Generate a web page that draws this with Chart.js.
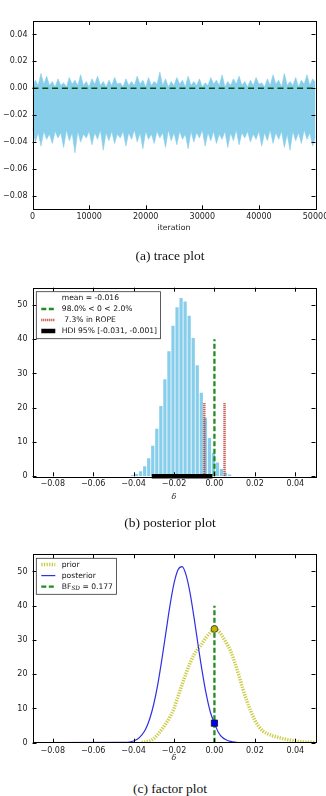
<!DOCTYPE html>
<html>
<head>
<meta charset="utf-8">
<script src="https://cdn.jsdelivr.net/npm/chart.js@4.4.1/dist/chart.umd.min.js"></script>
<style>
  html, body { margin: 0; padding: 0; background: #fff; }
  body { width: 326px; height: 796px; position: relative; overflow: hidden; }
  canvas { position: absolute; left: 0; }
  .cap { position: absolute; left: 0; width: 340px; text-align: center; z-index: 2;
         font-family: "Liberation Serif", "DejaVu Serif", serif; font-size: 13.5px; line-height: 16px; color: #111; }
</style>
</head>
<body>
<canvas id="trace" width="326" height="236" style="top:0px"></canvas>
<div class="cap" style="top:248px">(a) trace plot</div>
<canvas id="posterior" width="326" height="262" style="top:240px"></canvas>
<div class="cap" style="top:515px">(b) posterior plot</div>
<canvas id="factor" width="326" height="272" style="top:502px"></canvas>
<div class="cap" style="top:781px">(c) factor plot</div>
<script>
let traceIter = [0,500,1000,1500,2000,2500,3000,3500,4000,4500,5000,5500,6000,6500,7000,7500,8000,8500,9000,9500,
  10000,10500,11000,11500,12000,12500,13000,13500,14000,14500,15000,15500,16000,16500,17000,17500,18000,18500,19000,19500,
  20000,20500,21000,21500,22000,22500,23000,23500,24000,24500,25000,25500,26000,26500,27000,27500,28000,28500,29000,29500,
  30000,30500,31000,31500,32000,32500,33000,33500,34000,34500,35000,35500,36000,36500,37000,37500,38000,38500,39000,39500,
  40000,40500,41000,41500,42000,42500,43000,43500,44000,44500,45000,45500,46000,46500,47000,47500,48000,48500,49000,49500,50000];
let traceUpper = [0.000,0.006,0.002,0.011,0.003,0.009,0.002,0.005,0.001,0.007,0.002,0.004,0.001,0.008,0.003,0.006,0.002,0.010,0.002,0.005,
  0.001,0.007,0.003,0.009,0.002,0.005,0.001,0.006,0.002,0.008,0.003,0.004,0.001,0.007,0.002,0.005,0.002,0.009,0.003,0.006,
  0.001,0.008,0.002,0.005,0.003,0.012,0.002,0.007,0.001,0.005,0.002,0.008,0.003,0.006,0.001,0.009,0.002,0.005,0.002,0.007,
  0.001,0.004,0.002,0.008,0.003,0.006,0.002,0.010,0.001,0.005,0.002,0.007,0.003,0.009,0.002,0.005,0.001,0.006,0.002,0.008,
  0.003,0.004,0.001,0.007,0.002,0.010,0.003,0.006,0.001,0.011,0.002,0.005,0.002,0.008,0.001,0.006,0.003,0.010,0.002,0.007,0.004];
let traceLower = [-0.030,-0.040,-0.033,-0.043,-0.032,-0.038,-0.034,-0.041,-0.032,-0.037,-0.033,-0.044,-0.031,-0.039,-0.033,-0.048,-0.032,-0.040,-0.034,-0.037,
  -0.032,-0.042,-0.033,-0.038,-0.031,-0.046,-0.033,-0.039,-0.032,-0.041,-0.034,-0.037,-0.032,-0.043,-0.033,-0.038,-0.031,-0.040,-0.033,-0.045,
  -0.032,-0.038,-0.034,-0.041,-0.032,-0.037,-0.033,-0.044,-0.031,-0.039,-0.033,-0.042,-0.032,-0.038,-0.034,-0.045,-0.032,-0.040,-0.033,-0.037,
  -0.031,-0.043,-0.033,-0.039,-0.032,-0.041,-0.034,-0.038,-0.032,-0.044,-0.033,-0.039,-0.031,-0.042,-0.033,-0.037,-0.032,-0.040,-0.034,-0.038,
  -0.032,-0.043,-0.033,-0.039,-0.031,-0.041,-0.033,-0.038,-0.032,-0.044,-0.034,-0.046,-0.032,-0.039,-0.033,-0.041,-0.031,-0.038,-0.033,-0.043,-0.036];
let traceRefX = [0, 50000];
let traceRefY = [0, 0];
let traceXTicks = [0, 10000, 20000, 30000, 40000, 50000];
let traceYTicks = [-0.08, -0.06, -0.04, -0.02, 0.00, 0.02, 0.04];

// ---- (b) posterior histogram
let histCenters = [-0.0405,-0.0385,-0.0365,-0.0345,-0.0325,-0.0305,-0.0285,-0.0265,-0.0245,-0.0225,-0.0205,-0.0185,-0.0165,
  -0.0145,-0.0125,-0.0105,-0.0085,-0.0065,-0.0045,-0.0025,-0.0005,0.0015,0.0035,0.0055,0.0075];
let histHeights = [0.3,0.7,1.5,2.9,5.3,8.9,13.9,20.5,28.3,36.5,43.9,49.3,52.0,51.0,46.8,40.3,32.4,24.4,17.1,11.2,6.9,4.0,2.1,1.0,0.5];
let hdiBounds = [-0.031, -0.001];
let ropeBounds = [-0.005, 0.005];
let ropeTop = 21.5;
let zeroLineTop = 40;
let postLegend = ['mean = -0.016', '98.0% < 0 < 2.0%', ' 7.3% in ROPE', 'HDI 95% [-0.031, -0.001]'];

// ---- (c) Savage-Dickey factor plot
let deltaGrid = [-0.090,-0.044,-0.042,-0.040,-0.038,-0.036,-0.034,-0.032,-0.030,-0.028,-0.026,-0.024,-0.022,-0.020,-0.018,-0.016,
  -0.014,-0.012,-0.010,-0.008,-0.006,-0.004,-0.002,0.000,0.002,0.004,0.006,0.008,0.010,0.012,0.014,0.016,0.018,0.020,
  0.022,0.024,0.026,0.028,0.030,0.032,0.034,0.036,0.038,0.040,0.042,0.044,0.046,0.048,0.050];
let posteriorDensity = [0,0.1,0.2,0.5,1.1,2.2,4.0,7.0,11.3,17.1,24.3,32.2,40.0,46.5,50.5,51.4,
  48.9,43.5,36.2,28.2,20.6,14.0,8.9,5.7,3.0,1.5,0.8,0.4,0.15,0.05,0,0,0,0,
  0,0,0,0,0,0,0,0,0,0,0,0,0,0,0];
let priorDensity = [null,null,null,null,null,0,0.2,0.5,1.2,2.4,3.9,5.6,7.5,10.0,13.5,17.0,
  20.3,23.3,25.8,27.5,29.0,30.8,32.2,33.2,32.6,31.0,29.0,26.8,23.5,19.8,15.8,12.2,9.2,6.6,
  4.7,3.4,2.7,2.2,1.8,1.5,1.2,0.9,0.7,0.5,0.3,0.2,0.1,0.1,0.0];
let bfAt = [0];
let bfPrior = [33.2];
let bfPosterior = [5.7];
let factorLegend = ['prior', 'posterior', 'BF', 'SD', ' = 0.177'];

let deltaTicks = [-0.08, -0.06, -0.04, -0.02, 0.00, 0.02, 0.04];
let densityTicks = [0, 10, 20, 30, 40, 50];

// ---- shared look
const FONT = '"DejaVu Sans", sans-serif';
const LEG_FONT = '7.6px ' + FONT;
const SUB_FONT = 'italic 5.8px "DejaVu Serif", serif';
const SKY = '#87ceeb';
Chart.defaults.font.family = FONT;
Chart.defaults.font.size = 8;
Chart.defaults.color = '#222';

function fmt(v, digits) {
    let s = v.toFixed(digits);
    if (s.charAt(0) == '-') s = '\u2212' + s.slice(1);
    return s;
}
function xy(xs, ys) {
    return xs.map((x, i) => ({ x: x, y: ys[i] }));
}
function xAxis(tickVals, min, max, digits, title, titleFont, titleBottom, height) {
    return {
        type: 'linear', position: 'bottom', min: min, max: max, offset: false,
        grid: { display: false, drawTicks: false },
        border: { display: false },
        ticks: { padding: 3, autoSkip: false, maxRotation: 0, callback: v => fmt(v, digits) },
        afterBuildTicks: s => { s.ticks = tickVals.map(v => ({ value: v })); },
        afterFit: s => { s.height = height; s.paddingLeft = 0; s.paddingRight = 0; },
        title: { display: true, text: title, font: titleFont, color: '#222', padding: { top: 0, bottom: titleBottom } }
    };
}
function yAxis(tickVals, min, max, digits) {
    return {
        type: 'linear', position: 'left', min: min, max: max,
        grid: { display: false, drawTicks: false },
        border: { display: false },
        ticks: { padding: 5, autoSkip: false, callback: v => fmt(v, digits) },
        afterBuildTicks: s => { s.ticks = tickVals.map(v => ({ value: v })); },
        afterFit: s => { s.width = 32.5; s.paddingTop = 0; s.paddingBottom = 0; }
    };
}

// box around the axes with inward ticks on all four sides (matplotlib classic look)
const frameTicks = {
    id: 'frameTicks',
    afterDraw(chart) {
        const ctx = chart.ctx, a = chart.chartArea;
        const sx = chart.scales.x, sy = chart.scales.y;
        ctx.save();
        ctx.strokeStyle = '#000';
        ctx.lineWidth = 1;
        ctx.setLineDash([]);
        ctx.strokeRect(Math.round(a.left) + 0.5, Math.round(a.top) + 0.5, Math.round(a.right - a.left), Math.round(a.bottom - a.top));
        ctx.beginPath();
        sx.ticks.forEach(t => {
            const px = Math.round(sx.getPixelForValue(t.value)) + 0.5;
            ctx.moveTo(px, a.bottom); ctx.lineTo(px, a.bottom - 4);
            ctx.moveTo(px, a.top); ctx.lineTo(px, a.top + 4);
        });
        sy.ticks.forEach(t => {
            const py = Math.round(sy.getPixelForValue(t.value)) + 0.5;
            ctx.moveTo(a.left, py); ctx.lineTo(a.left + 4, py);
            ctx.moveTo(a.right, py); ctx.lineTo(a.right - 4, py);
        });
        ctx.stroke();
        ctx.restore();
    }
};

// framed legend in the upper-left corner of the axes
const boxLegend = {
    id: 'boxLegend',
    afterDraw(chart, args, opts) {
        const items = opts.items;
        if (!items || !items.length) return;
        const ctx = chart.ctx, a = chart.chartArea;
        const x0 = a.left + 3.8, y0 = a.top + 4, rowH = 11, textX = x0 + 25.5;
        ctx.save();
        let maxW = 0;
        items.forEach(it => {
            let w = 0;
            it.text.forEach(r => { ctx.font = r.sub ? SUB_FONT : LEG_FONT; w += ctx.measureText(r.t).width; });
            maxW = Math.max(maxW, w);
        });
        const boxW = textX - x0 + maxW + 3.5, boxH = items.length * rowH + 3;
        ctx.fillStyle = '#fff';
        ctx.fillRect(x0, y0, boxW, boxH);
        ctx.strokeStyle = '#333';
        ctx.lineWidth = 0.8;
        ctx.strokeRect(x0, y0, boxW, boxH);
        items.forEach((it, i) => {
            const cy = y0 + 6.3 + i * rowH;
            if (it.line) {
                ctx.beginPath();
                ctx.strokeStyle = it.line.color;
                ctx.lineWidth = it.line.width;
                ctx.setLineDash(it.line.dash || []);
                ctx.moveTo(x0 + 5, cy);
                ctx.lineTo(x0 + 19, cy);
                ctx.stroke();
                ctx.setLineDash([]);
            }
            let x = textX;
            ctx.fillStyle = '#111';
            ctx.textAlign = 'left';
            ctx.textBaseline = 'middle';
            it.text.forEach(r => {
                ctx.font = r.sub ? SUB_FONT : LEG_FONT;
                ctx.fillText(r.t, x, cy + (r.sub ? 2 : 0));
                x += ctx.measureText(r.t).width;
            });
        });
        ctx.restore();
    }
};
Chart.register(frameTicks, boxLegend);

const GREEN_A = { color: '#0a4f0a', width: 1.7, dash: [6, 3.8] };
const GREEN = { color: '#228b22', width: 2.3, dash: [5, 2.5] };
const ROPE = { color: '#b8322c', width: 2.5, dash: [1, 1] };
const HDI = { color: '#000', width: 4.5, dash: [] };
const PRIOR = { color: '#cccc44', width: 3.5, dash: [1.3, 1.3] };
const POST = { color: '#2f2fe6', width: 1.2, dash: [] };

function lineSet(label, data, st, order, extra) {
    return Object.assign({
        type: 'line', label: label, data: data, borderColor: st.color, borderWidth: st.width,
        borderDash: st.dash, pointRadius: 0, fill: false, tension: 0, order: order
    }, extra || {});
}

const common = {
    responsive: false, animation: false, devicePixelRatio: 1,
    events: [],
    plugins: { legend: { display: false }, tooltip: { enabled: false } }
};

// (a) trace plot
new Chart(document.getElementById('trace'), {
    type: 'line',
    data: {
        datasets: [
            lineSet('upper', xy(traceIter, traceUpper), { color: SKY, width: 0.6, dash: [] }, 3,
                { fill: '+1', backgroundColor: SKY }),
            lineSet('lower', xy(traceIter, traceLower), { color: SKY, width: 0.6, dash: [] }, 2),
            lineSet('zero', xy(traceRefX, traceRefY), GREEN_A, 1)
        ]
    },
    options: Object.assign({}, common, {
        layout: { padding: { top: 21, right: 10.5, left: 0, bottom: 0 } },
        scales: {
            x: xAxis(traceXTicks, 0, 50000, 0, 'iteration', { family: FONT, size: 7.8 }, 3.3, 26.7),
            y: yAxis(traceYTicks, -0.09, 0.05, 2)
        }
    })
});

// (b) posterior plot
new Chart(document.getElementById('posterior'), {
    type: 'bar',
    data: {
        datasets: [
            { type: 'bar', label: 'posterior', data: xy(histCenters, histHeights), backgroundColor: SKY,
              borderWidth: 0, categoryPercentage: 1, barPercentage: 0.8, order: 5 },
            lineSet('zero', xy([0, 0], [0, zeroLineTop]), GREEN, 3),
            lineSet('rope lo', xy([ropeBounds[0], ropeBounds[0]], [0, ropeTop]), ROPE, 2),
            lineSet('rope hi', xy([ropeBounds[1], ropeBounds[1]], [0, ropeTop]), ROPE, 2),
            lineSet('hdi', xy(hdiBounds, [0, 0]), HDI, 1, { clip: false })
        ]
    },
    options: Object.assign({}, common, {
        layout: { padding: { top: 47.7, right: 10.5, left: 0, bottom: 0 } },
        scales: {
            x: xAxis(deltaTicks, -0.09, 0.05, 2, '\u03b4', { family: '"DejaVu Serif", serif', style: 'italic', size: 8 }, 0.5, 25.7),
            y: yAxis(densityTicks, 0, 55, 0)
        },
        plugins: {
            legend: { display: false }, tooltip: { enabled: false },
            boxLegend: {
                items: [
                    { text: [{ t: postLegend[0] }] },
                    { text: [{ t: postLegend[1] }], line: GREEN },
                    { text: [{ t: postLegend[2] }], line: ROPE },
                    { text: [{ t: postLegend[3] }], line: HDI }
                ]
            }
        }
    })
});

// (c) factor plot
new Chart(document.getElementById('factor'), {
    type: 'line',
    data: {
        datasets: [
            lineSet('prior', xy(deltaGrid, priorDensity), PRIOR, 5, { cubicInterpolationMode: 'monotone' }),
            lineSet('posterior', xy(deltaGrid, posteriorDensity), POST, 4, { cubicInterpolationMode: 'monotone' }),
            lineSet('bf', xy([0, 0], [0, zeroLineTop]), GREEN, 3),
            { type: 'line', label: 'prior at 0', data: xy(bfAt, bfPrior), showLine: false, pointStyle: 'circle',
              pointRadius: 3.4, pointBackgroundColor: '#bdb800', pointBorderColor: '#333', pointBorderWidth: 0.8, order: 1 },
            { type: 'line', label: 'posterior at 0', data: xy(bfAt, bfPosterior), showLine: false, pointStyle: 'rect',
              pointRadius: 4.4, pointBackgroundColor: '#0000ff', pointBorderColor: '#111', pointBorderWidth: 0.8, order: 0 }
        ]
    },
    options: Object.assign({}, common, {
        layout: { padding: { top: 52.3, right: 10.5, left: 0, bottom: 0 } },
        scales: {
            x: xAxis(deltaTicks, -0.09, 0.05, 2, '\u03b4', { family: '"DejaVu Serif", serif', style: 'italic', size: 8 }, 10.9, 31.3),
            y: yAxis(densityTicks, 0, 55, 0)
        },
        plugins: {
            legend: { display: false }, tooltip: { enabled: false },
            boxLegend: {
                items: [
                    { text: [{ t: factorLegend[0] }], line: PRIOR },
                    { text: [{ t: factorLegend[1] }], line: POST },
                    { text: [{ t: factorLegend[2] }, { t: factorLegend[3], sub: true }, { t: factorLegend[4] }], line: GREEN }
                ]
            }
        }
    })
});
</script>
</body>
</html>
